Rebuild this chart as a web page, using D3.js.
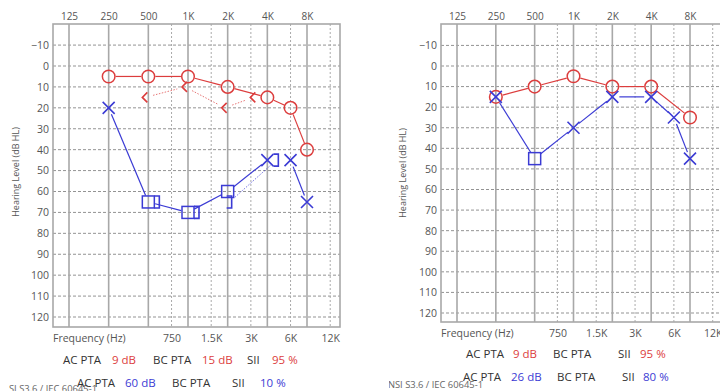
<!DOCTYPE html>
<html><head><meta charset="utf-8">
<script src="https://cdn.jsdelivr.net/npm/d3@7"></script>
<style>
html,body{margin:0;padding:0;background:#fff;}
svg{display:block;font-family:"Open Sans","Noto Sans",sans-serif;}
</style></head>
<body>
<svg id="chart" width="720" height="391"></svg>
<script>
// ---------- data ----------
const octaveFreqs = [125, 250, 500, 1000, 2000, 4000, 8000];
const octaveLabels = ["125", "250", "500", "1K", "2K", "4K", "8K"];
const halfFreqs = [750, 1500, 3000, 6000, 12000];
const halfLabels = ["750", "1.5K", "3K", "6K", "12K"];
const dbTicks = [-10, 0, 10, 20, 30, 40, 50, 60, 70, 80, 90, 100, 110, 120];

// left audiogram
const a1RightAcFreq = [250, 500, 1000, 2000, 4000, 6000, 8000];
const a1RightAcDb   = [5, 5, 5, 10, 15, 20, 40];
const a1RightBcFreq = [500, 1000, 2000, 4000];
const a1RightBcDb   = [15, 10, 20, 15];
const a1LeftAcFreq  = [250, 500, 1000, 2000, 4000, 6000, 8000];
const a1LeftAcDb    = [20, 65, 70, 60, 45, 45, 65];
const a1LeftAcMasked = [false, true, true, true, false, false, false];
const a1LeftAcLinked = [true, true, true, true, false, true];   // link i -> i+1
const a1LeftBcFreq  = [500, 1000, 2000, 4000];
const a1LeftBcDb    = [65, 70, 65, 45];
const a1LeftBcLinked = [false, false, true];
const a1StatsRight = ["9 dB", "15 dB", "95 %"];
const a1StatsLeft  = ["60 dB", "", "10 %"];

// right audiogram
const a2RightAcFreq = [250, 500, 1000, 2000, 4000, 8000];
const a2RightAcDb   = [15, 10, 5, 10, 10, 25];
const a2LeftAcFreq  = [250, 500, 1000, 2000, 4000, 6000, 8000];
const a2LeftAcDb    = [15, 45, 30, 15, 15, 25, 45];
const a2LeftAcMasked = [false, true, false, false, false, false, false];
const a2LeftAcLinked = [true, true, true, true, true, true];
const a2StatsRight = ["9 dB", "", "95 %"];
const a2StatsLeft  = ["26 dB", "", "80 %"];

const standardText = "ANSI S3.6 / IEC 60645-1";
const yTitle = "Hearing Level (dB HL)";
const xTitle = "Frequency (Hz)";

// ---------- style ----------
const RED = "#dc3d3d", BLUE = "#3b3bd4", TXT = "#555", DARK = "#333";

const svg = d3.select("#chart");
const defs = svg.append("defs");

function trimSeg(p, q, r1, r2) {
  const dx = q[0] - p[0], dy = q[1] - p[1], L = Math.hypot(dx, dy);
  if (L <= r1 + r2) return null;
  const ux = dx / L, uy = dy / L;
  return [[p[0] + ux * r1, p[1] + uy * r1], [q[0] - ux * r2, q[1] - uy * r2]];
}

function drawPanel(c) {
  defs.append("clipPath").attr("id", c.id).append("rect")
    .attr("x", c.clipX).attr("y", 0).attr("width", 720 - c.clipX).attr("height", 391);
  const g = svg.append("g").attr("clip-path", `url(#${c.id})`);
  const x = d3.scaleLog().base(2).domain([125, 8000]).range(c.xr);
  const y = d3.scaleLinear().domain([0, 120]).range(c.yr);
  const L = c.box[0], R = c.box[1], T = c.box[2], B = c.box[3];

  // horizontal dashed grid
  g.append("g").selectAll("line").data(dbTicks).join("line")
    .attr("x1", L).attr("x2", R).attr("y1", d => y(d)).attr("y2", d => y(d))
    .attr("stroke", "#939393").attr("stroke-width", 1).attr("stroke-dasharray", "3,2");
  // half-octave dashed verticals
  g.append("g").selectAll("line").data(halfFreqs).join("line")
    .attr("x1", d => x(d)).attr("x2", d => x(d)).attr("y1", T).attr("y2", B)
    .attr("stroke", "#aaaaaa").attr("stroke-width", 1).attr("stroke-dasharray", "2,2");
  // octave solid verticals
  g.append("g").selectAll("line").data(octaveFreqs).join("line")
    .attr("x1", d => x(d)).attr("x2", d => x(d)).attr("y1", T).attr("y2", B)
    .attr("stroke", "#a8a8a8").attr("stroke-width", 1.6);
  g.append("rect").attr("x", L).attr("y", T).attr("width", R - L).attr("height", B - T)
    .attr("fill", "none").attr("stroke", "#a8a8a8").attr("stroke-width", 1.6);

  // axes labels
  const ya = g.append("g").attr("transform", `translate(${c.yLabelX},0)`)
    .call(d3.axisLeft(y).tickValues(dbTicks).tickSize(0).tickPadding(0).tickFormat(d3.format("d")));
  ya.select(".domain").remove();
  ya.selectAll("text").attr("fill", TXT).style("font-size", "10.5px").style("font-family", "Open Sans");
  const xa = g.append("g").attr("transform", `translate(0,${c.topLabelY})`)
    .call(d3.axisTop(x).tickValues(octaveFreqs).tickSize(0).tickPadding(0)
      .tickFormat((d, i) => octaveLabels[i]));
  xa.select(".domain").remove();
  xa.selectAll("text").attr("fill", TXT).style("font-size", "10px").style("font-family", "Open Sans");
  const xb = g.append("g").attr("transform", `translate(0,${c.botLabelY})`)
    .call(d3.axisBottom(x).tickValues(halfFreqs).tickSize(0).tickPadding(0)
      .tickFormat((d, i) => halfLabels[i]));
  xb.select(".domain").remove();
  xb.selectAll("text").attr("fill", TXT).attr("dy", 0).style("font-size", "10.5px").style("font-family", "Open Sans");

  g.append("text").attr("x", L).attr("y", c.botLabelY).text(xTitle)
    .attr("fill", TXT).style("font-size", "10.5px");
  g.append("text").attr("transform", `translate(${c.yTitleX},${c.yTitleY}) rotate(-90)`)
    .attr("text-anchor", "middle").attr("dominant-baseline", "middle").text(yTitle)
    .attr("fill", TXT).style("font-size", "9px");

  const line = d3.line();
  const P = (f, v) => [x(f), y(v)];

  function links(freqs, dbs, linked, r, color, dash, width) {
    for (let i = 0; i < freqs.length - 1; i++) {
      if (linked && !linked[i]) continue;
      const s = trimSeg(P(freqs[i], dbs[i]), P(freqs[i + 1], dbs[i + 1]), r, r);
      if (!s) continue;
      g.append("path").attr("d", line(s)).attr("fill", "none").attr("stroke", color)
        .attr("stroke-width", width).attr("stroke-dasharray", dash || null)
        .attr("opacity", dash ? 0.75 : 1);
    }
  }

  // right ear (red)
  if (c.rBcFreq) {
    const acMap = new Map(c.rAcFreq.map((f, i) => [f, c.rAcDb[i]]));
    const sh = c.rBcFreq.map((f, i) => acMap.get(f) === c.rBcDb[i] ? -11 : 0);
    for (let i = 0; i < c.rBcFreq.length - 1; i++) {
      const p = P(c.rBcFreq[i], c.rBcDb[i]), q = P(c.rBcFreq[i + 1], c.rBcDb[i + 1]);
      p[0] += sh[i] - 3; q[0] += sh[i + 1] - 3;
      const s = trimSeg(p, q, 8, 8);
      if (s) g.append("path").attr("d", line(s)).attr("fill", "none").attr("stroke", RED)
        .attr("stroke-width", 1).attr("stroke-dasharray", "1.5,1.5").attr("opacity", 0.7);
    }
    c.rBcFreq.forEach((f, i) => {
      const [px, py] = P(f, c.rBcDb[i]);
      const ox = px + sh[i];
      g.append("path").attr("d", `M${ox - 1},${py - 5}L${ox - 6},${py}L${ox - 1},${py + 5}`)
        .attr("fill", "none").attr("stroke", RED).attr("stroke-width", 1.6);
    });
  }
  links(c.rAcFreq, c.rAcDb, null, 7, RED, null, 1.2);
  c.rAcFreq.forEach((f, i) => {
    const [px, py] = P(f, c.rAcDb[i]);
    g.append("circle").attr("cx", px).attr("cy", py).attr("r", 6.3)
      .attr("fill", "none").attr("stroke", RED).attr("stroke-width", 1.5);
  });

  // left ear (blue)
  if (c.lBcFreq) {
    const acMap = new Map(c.lAcFreq.map((f, i) => [f, c.lAcDb[i]]));
    const sh = c.lBcFreq.map((f, i) => acMap.get(f) === c.lBcDb[i] ? 7 : 0);
    for (let i = 0; i < c.lBcFreq.length - 1; i++) {
      if (!c.lBcLinked[i]) continue;
      const p = P(c.lBcFreq[i], c.lBcDb[i]), q = P(c.lBcFreq[i + 1], c.lBcDb[i + 1]);
      p[0] += sh[i] + 2; q[0] += sh[i + 1] + 2;
      const s = trimSeg(p, q, 7, 7);
      if (s) g.append("path").attr("d", line(s)).attr("fill", "none").attr("stroke", BLUE)
        .attr("stroke-width", 1).attr("stroke-dasharray", "1.5,1.5").attr("opacity", 0.7);
    }
    c.lBcFreq.forEach((f, i) => {
      const [px, py] = P(f, c.lBcDb[i]);
      const ox = px + sh[i];
      g.append("path").attr("d", `M${ox - 1},${py - 6}L${ox + 4},${py - 6}L${ox + 4},${py + 6}L${ox - 1},${py + 6}`)
        .attr("fill", "none").attr("stroke", BLUE).attr("stroke-width", 1.6);
    });
  }
  links(c.lAcFreq, c.lAcDb, c.lAcLinked, 7, BLUE, null, 1.2);
  c.lAcFreq.forEach((f, i) => {
    const [px, py] = P(f, c.lAcDb[i]);
    if (c.lAcMasked[i]) {
      g.append("rect").attr("x", px - 6).attr("y", py - 6).attr("width", 12).attr("height", 12)
        .attr("fill", "none").attr("stroke", BLUE).attr("stroke-width", 1.5);
    } else {
      g.append("path").attr("d", `M${px - 6},${py - 6}L${px + 6},${py + 6}M${px - 6},${py + 6}L${px + 6},${py - 6}`)
        .attr("fill", "none").attr("stroke", BLUE).attr("stroke-width", 1.6);
    }
  });

  // stats rows
  function statsRow(vals, color, pos, yy) {
    const labels = ["AC PTA", vals[0], "BC PTA", vals[1], "SII", vals[2]];
    const colors = [DARK, color, DARK, color, DARK, color];
    labels.forEach((t, i) => {
      if (!t || pos[i] == null) return;
      g.append("text").attr("x", pos[i]).attr("y", yy).text(t).attr("fill", colors[i])
        .style("font-size", "11.5px");
    });
  }
  statsRow(c.statsR, RED, c.posR, c.statY1);
  g.append("text").attr("x", c.footX - 101).attr("y", c.footY)
    .attr("textLength", 101).attr("lengthAdjust", "spacingAndGlyphs")
    .text(standardText).attr("fill", "#666").style("font-size", "9px");
  statsRow(c.statsL, BLUE, c.posL, c.statY2);
}

drawPanel({
  id: "clipA", clipX: 9,
  xr: [69, 307], yr: [66, 317], box: [53, 340, 24, 327],
  yLabelX: 49, topLabelY: 20, botLabelY: 342, yTitleX: 17, yTitleY: 172,
  rAcFreq: a1RightAcFreq, rAcDb: a1RightAcDb, rBcFreq: a1RightBcFreq, rBcDb: a1RightBcDb,
  lAcFreq: a1LeftAcFreq, lAcDb: a1LeftAcDb, lAcMasked: a1LeftAcMasked, lAcLinked: a1LeftAcLinked,
  lBcFreq: a1LeftBcFreq, lBcDb: a1LeftBcDb, lBcLinked: a1LeftBcLinked,
  statsR: a1StatsRight, statsL: a1StatsLeft,
  posR: [63, 112, 153, 202, 247, 272], posL: [77, 125, 172, null, 232, 260],
  statY1: 364, statY2: 387, footX: 97, footY: 392
});

drawPanel({
  id: "clipB", clipX: 389,
  xr: [457, 690], yr: [66, 313], box: [441, 722, 24, 322],
  yLabelX: 437, topLabelY: 20, botLabelY: 337, yTitleX: 404, yTitleY: 173,
  rAcFreq: a2RightAcFreq, rAcDb: a2RightAcDb,
  lAcFreq: a2LeftAcFreq, lAcDb: a2LeftAcDb, lAcMasked: a2LeftAcMasked, lAcLinked: a2LeftAcLinked,
  statsR: a2StatsRight, statsL: a2StatsLeft,
  posR: [466, 513, 553, null, 618, 640], posL: [463, 511, 557, null, 622, 643],
  statY1: 358, statY2: 381, footX: 483, footY: 388
});
</script>
</body></html>
